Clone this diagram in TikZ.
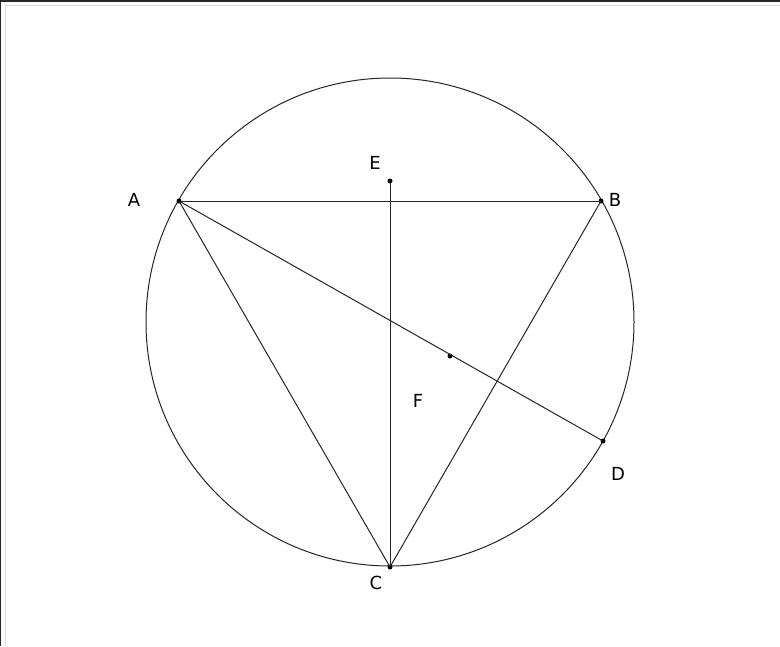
\documentclass[tikz,border=0pt]{standalone}
\usepackage{fontspec}
\setmainfont{DejaVu Sans}
\begin{document}
\begin{tikzpicture}[x=1pt,y=-1pt,
  seg/.style={draw=black!85,line width=1pt},
  pt/.style={circle,fill=black,inner sep=0pt,minimum size=5pt},
  lab/.style={font=\fontsize{18}{18}\selectfont,inner sep=0pt}]
\useasboundingbox (0,0) rectangle (780,646);
\fill[white] (0,0) rectangle (780,646);
% frame
\draw[black!85,line width=1.5pt] (0,646) -- (0,0.75) -- (780,0.75);
\draw[black!15,line width=1pt] (5,646) -- (5,5) -- (780,5);
% circle
\coordinate (O) at (390,322);
\draw[seg] (O) circle (244);
% points
\node[pt] (A) at (179,201) {};
\node[pt] (B) at (601,201) {};
\node[pt] (C) at (390,567) {};
\node[pt] (D) at (603,441) {};
\node[pt] (E) at (390,181) {};
\node[pt] (P) at (450,356) {};
% segments
\draw[seg] (A.center) -- (B.center);
\draw[seg] (A.center) -- (C.center);
\draw[seg] (B.center) -- (C.center);
\draw[seg] (A.center) -- (D.center);
\draw[seg] (E.center) -- (C.center);
% labels
\node[lab] (lA) at (134,200) {A};
\node[lab] (lB) at (615,200) {B};
\node[lab] (lC) at (376,583) {C};
\node[lab] (lD) at (618,474) {D};
\node[lab] (lE) at (375,163) {E};
\node[lab] (lF) at (418,401) {F};
\end{tikzpicture}
\end{document}
